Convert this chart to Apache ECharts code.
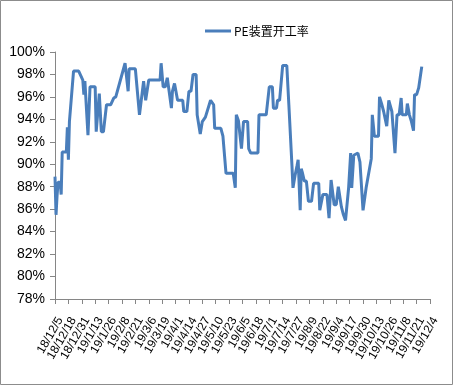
<!DOCTYPE html>
<html><head><meta charset="utf-8">
<script src="https://cdn.jsdelivr.net/npm/echarts@6/dist/echarts.min.js"></script>
<style>html,body{margin:0;padding:0;background:#fff}#c{width:453px;height:385px}</style>
</head><body><div id="c"></div>
<script>
const seriesName = 'PE装置开工率';
const dates = ['2018-12-05','2018-12-06','2018-12-07','2018-12-08','2018-12-10','2018-12-11','2018-12-12','2018-12-16','2018-12-17','2018-12-18','2018-12-19','2018-12-23','2018-12-28',
'2019-01-01','2019-01-02','2019-01-03','2019-01-06','2019-01-08','2019-01-13','2019-01-14','2019-01-17','2019-01-19','2019-01-21','2019-01-24','2019-01-28','2019-01-31',
'2019-02-02','2019-02-11','2019-02-14','2019-02-15','2019-02-21','2019-02-25','2019-02-26',
'2019-03-01','2019-03-03','2019-03-06','2019-03-17','2019-03-18','2019-03-20','2019-03-22','2019-03-24','2019-03-28','2019-03-29','2019-03-31',
'2019-04-01','2019-04-03','2019-04-08','2019-04-09','2019-04-12','2019-04-14','2019-04-16','2019-04-18','2019-04-21','2019-04-22','2019-04-25','2019-04-27','2019-04-30',
'2019-05-05','2019-05-08','2019-05-09','2019-05-15','2019-05-17','2019-05-20','2019-05-27','2019-05-29','2019-05-30',
'2019-06-01','2019-06-02','2019-06-04','2019-06-06','2019-06-10','2019-06-11','2019-06-13','2019-06-20','2019-06-21','2019-06-28',
'2019-07-01','2019-07-04','2019-07-05','2019-07-08','2019-07-09','2019-07-11','2019-07-14','2019-07-18','2019-07-20','2019-07-23','2019-07-24','2019-07-26','2019-07-28','2019-07-29','2019-07-31',
'2019-08-01','2019-08-02','2019-08-04','2019-08-06','2019-08-08','2019-08-11','2019-08-13','2019-08-18','2019-08-19','2019-08-22','2019-08-26','2019-08-28','2019-08-30','2019-08-31',
'2019-09-02','2019-09-04','2019-09-06','2019-09-07','2019-09-09','2019-09-11','2019-09-13','2019-09-16','2019-09-18','2019-09-19','2019-09-21','2019-09-25','2019-09-27','2019-09-30',
'2019-10-03','2019-10-08','2019-10-09','2019-10-11','2019-10-15','2019-10-16','2019-10-18','2019-10-20','2019-10-23','2019-10-25','2019-10-28','2019-10-29','2019-10-31',
'2019-11-02','2019-11-04','2019-11-06','2019-11-07','2019-11-11','2019-11-12','2019-11-14','2019-11-16','2019-11-18','2019-11-19','2019-11-21','2019-11-23','2019-11-26'];
const values = [88.9,85.5,87.2,88.4,88.4,87.3,91.1,91.1,93.3,90.4,93.8,98.3,98.3,
97.5,96.2,97.4,92.6,96.9,96.9,92.9,96.3,92.9,92.9,95.3,95.3,95.9,
96.0,99.0,96.5,98.5,98.5,94.4,94.4,
97.4,95.7,97.5,97.5,99.0,96.9,96.9,97.7,95.0,96.5,97.2,
97.1,95.7,95.7,94.7,94.7,96.5,96.5,98.0,98.0,94.4,92.7,93.8,94.2,
95.7,95.3,93.2,93.2,92.5,89.2,89.2,87.9,94.4,
93.9,93.8,91.4,93.8,93.8,91.4,91.0,91.0,94.4,94.4,
96.9,96.9,95.0,95.0,95.7,95.7,98.8,98.8,95.3,89.9,87.9,89.0,89.9,90.4,85.9,
89.6,89.3,88.5,88.5,86.7,86.7,88.3,88.3,85.9,87.3,87.3,85.2,88.6,88.6,
86.4,86.4,88.0,88.0,86.2,85.5,85.0,87.9,91.0,87.9,90.8,91.0,90.2,85.9,
87.9,90.5,94.4,92.5,92.5,96.0,95.4,94.7,93.4,95.7,94.7,94.7,91.0,
94.4,94.4,95.9,94.4,94.4,95.4,94.4,93.8,93.0,96.2,96.2,96.8,98.7];
const xTickLabels = ['18/12/5','18/12/18','18/12/31','19/1/13','19/1/26','19/2/8','19/2/21','19/3/6','19/3/19','19/4/1','19/4/14','19/4/27','19/5/10','19/5/23','19/6/5','19/6/18','19/7/1','19/7/14','19/7/27','19/8/9','19/8/22','19/9/4','19/9/17','19/9/30','19/10/13','19/10/26','19/11/8','19/11/21','19/12/4'];
const baseDate = '2018-12-05';
const tickStepDays = 13;

const DAY = 86400000;
const base = Date.parse(baseDate);
const points = dates.map((d, i) => [(Date.parse(d) - base) / DAY, values[i]]);
const xMax = (xTickLabels.length - 1) * tickStepDays;

function labelAxis(parity, showLine) {
  return {
    type: 'value', min: 0, max: xMax, interval: tickStepDays,
    position: 'bottom', offset: 0,
    splitLine: {show: false},
    axisLine: {show: showLine, lineStyle: {color: '#868686', width: 1}},
    axisTick: {show: showLine, length: 5, lineStyle: {color: '#868686'}},
    axisLabel: {
      rotate: 60, fontSize: 12, color: '#000', margin: 16, verticalAlign: 'top', fontFamily: 'Liberation Sans',
      hideOverlap: false, showMinLabel: true, showMaxLabel: true,
      formatter: v => { const k = Math.round(v / tickStepDays); return k % 2 === parity ? (xTickLabels[k] || '') : ''; }
    }
  };
}

const chart = echarts.init(document.getElementById('c'), null, {renderer: 'canvas'});
chart.setOption({
  animation: false,
  graphic: [{type: 'rect', shape: {x: 0.5, y: 0.5, width: 452, height: 384}, style: {fill: 'none', stroke: '#8c8c8c', lineWidth: 1}, silent: true}],
  legend: {
    top: 20, left: 200,
    itemWidth: 26, itemHeight: 3, icon: 'rect', itemGap: 4,
    textStyle: {fontSize: 12, color: '#000', fontFamily: 'Noto Sans CJK SC', padding: [0, 0, 0, -2]},
    data: [seriesName]
  },
  grid: {left: 55, right: 23, top: 52, bottom: 86, containLabel: false},
  xAxis: [labelAxis(0, true), labelAxis(1, false)],
  yAxis: {
    type: 'value', min: 78, max: 100, interval: 2,
    splitLine: {show: false},
    axisLine: {show: true, lineStyle: {color: '#868686', width: 1}},
    axisTick: {show: true, length: 5, lineStyle: {color: '#868686'}},
    axisLabel: {fontSize: 14, color: '#000', margin: 10, fontFamily: 'Liberation Sans', formatter: v => v + '%'}
  },
  series: [{
    name: seriesName, type: 'line', data: points, showSymbol: false, symbol: 'none', xAxisIndex: 0,
    lineStyle: {color: '#4A7EBB', width: 3}, itemStyle: {color: '#4A7EBB'}
  }]
});
</script></body></html>
